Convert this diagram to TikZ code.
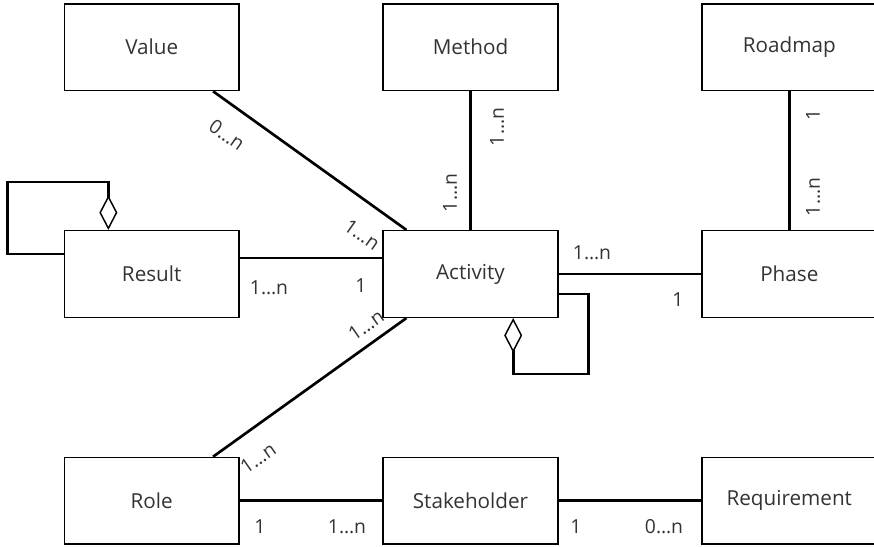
\documentclass[tikz,border=0pt]{standalone}
\usepackage{fontspec}
\setmainfont{Open Sans}
\usepackage{tikz}
\usetikzlibrary{positioning}
\usetikzlibrary{arrows.meta}

\tikzset{
  entity/.style={draw, line width=1.1pt, minimum width=131pt, minimum height=65pt,
    inner sep=0pt, text=black!80, font=\fontsize{15.5}{18}\selectfont},
  assoc/.style={line width=2pt},
  aggr/.style={line width=2pt, -{Diamond[open, length=26pt, width=13.5pt, line width=1.1pt]}},
  mult/.style={inner sep=0pt, text=black!80, font=\fontsize{14.5}{17}\selectfont},
}

\begin{document}
\begin{tikzpicture}[x=0.75pt, y=-0.75pt, node distance=104pt and 107pt]
	 \useasboundingbox (0,0) rectangle (874,546);
	 \node[entity] (activity) at (470.5,274) {Activity};
	 \node[entity] (result) [left=of activity] {Result};
	 \node[entity] (phase) [right=of activity] {Phase};
	 \node[entity] (method) [above=of activity] {Method};
	 \node[entity] (value) [left=of method] {Value};
	 \node[entity] (roadmap) [right=of method] {Roadmap};
	 \node[entity] (stakeholder) [below=of activity] {Stakeholder};
	 \node[entity] (role) [left=of stakeholder] {Role};
	 \node[entity] (requirement) [right=of stakeholder] {Requirement};
	 % associations
	 \draw[assoc] ([xshift=46pt]value.south) -- ([xshift=18pt]activity.north west);
	 \draw[assoc] (method.south) -- (activity.north);
	 \draw[assoc] (roadmap.south) -- (phase.north);
	 \draw[assoc] ([yshift=12pt]result.east) -- ([yshift=12pt]activity.west);
	 \draw[assoc] (activity.east) -- (phase.west);
	 \draw[assoc] ([xshift=18pt]activity.south west) -- ([xshift=46pt]role.north);
	 \draw[assoc] (role.east) -- (stakeholder.west);
	 \draw[assoc] (stakeholder.east) -- (requirement.west);
	 % aggregations
	 \draw[aggr] ([yshift=15pt]result.west) -- ++(-42pt,0) |- ([xshift=-32.5pt,yshift=36pt]result.north) -- ([xshift=-32.5pt]result.north);
	 \draw[aggr] ([yshift=-15pt]activity.east) -- ++(22.5pt,0) |- ([xshift=32pt,yshift=-42pt]activity.south) -- ([xshift=32pt]activity.south);
	 % multiplicities
	 \node[mult, rotate=-35] (mvalue) at (227,135) {0…n};
	 \node[mult, rotate=-35] (mactvalue) at (362,235) {1…n};
	 \node[mult, rotate=90] (mmethod) at (497,127) {1…n};
	 \node[mult, rotate=90] (mactmethod) at (450,193) {1…n};
	 \node[mult, rotate=90] (mroadmap) at (813,115) {1};
	 \node[mult, rotate=90] (mphaseroad) at (813,197) {1…n};
	 \node[mult] (mresult) at (269,288) {1…n};
	 \node[mult] (mactresult) at (361,286) {1};
	 \node[mult] (mactphase) at (592,253) {1…n};
	 \node[mult] (mphase) at (678,300) {1};
	 \node[mult, rotate=35] (mactrole) at (366,325) {1…n};
	 \node[mult, rotate=35] (mrole) at (258,458) {1…n};
	 \node[mult] (mrolestake) at (260,527) {1};
	 \node[mult] (mstakerole) at (347,527) {1…n};
	 \node[mult] (mstakereq) at (576,527) {1};
	 \node[mult] (mreq) at (664,527) {0…n};
\end{tikzpicture}
\end{document}
